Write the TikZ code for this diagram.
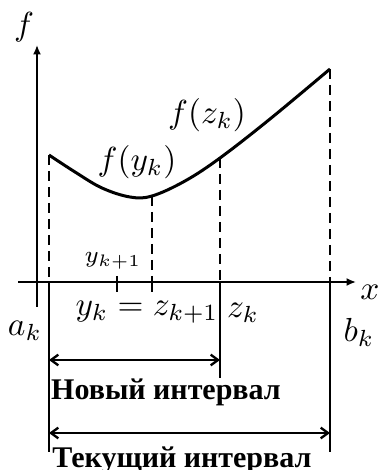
\documentclass[tikz,border=0pt]{standalone}
\usepackage{fontspec}
\setmainfont{Liberation Serif}
\usetikzlibrary{arrows.meta}

\begin{document}
\begin{tikzpicture}[
  x=0.3pt, y=-0.3pt,
  axis/.style={line width=0.7pt, -{Latex[length=2.8pt, width=2.4pt]}},
  curve/.style={line width=0.9pt},
  guide/.style={line width=0.8pt, dash pattern=on 3pt off 1.8pt},
  bound/.style={line width=0.8pt},
  span/.style={line width=0.7pt, {Straight Barb[length=2.2pt, width=3.2pt]}-{Straight Barb[length=2.2pt, width=3.2pt]}},
  lbl/.style={inner sep=0pt, font=\fontsize{10}{12}\selectfont},
  txt/.style={inner sep=0pt, font=\fontsize{9}{11}\selectfont\bfseries},
]
\useasboundingbox (0,0) rectangle (380,470);

% === AXES ===
\coordinate (o0) at (37,307);
\coordinate (ytop) at (37,45);
\coordinate (x0) at (18,282);
\coordinate (xend) at (356,282);
\draw[axis] (o0) -- (ytop);
\draw[axis] (x0) -- (xend);
\node[lbl] (flab) at (24,27) {$f$};
\node[lbl] (xlab) at (370,292) {$x$};

% === CURVE POINTS ===
\coordinate (fa) at (49,155);
\coordinate (fy) at (152,196);
\coordinate (fz) at (220,158);
\coordinate (fb) at (330,69);
\draw[curve] plot[smooth, tension=0.6] coordinates {(49,155) (75,172) (102,188) (130,197) (152,196) (185,181) (220,158) (270,119) (330,69)};

% === POINTS ON AXIS ===
\coordinate (ak) at (49,282);
\coordinate (yk) at (152,282);
\coordinate (zk) at (220,282);
\coordinate (bk) at (330,282);
\coordinate (yk1) at (117,282);

\draw[guide] (fa) -- (ak);
\draw[guide] (fy) -- (yk);
\draw[guide] (fz) -- (zk);
\draw[guide] (fb) -- (bk);

\draw[bound] (ak) -- ++(0,170) coordinate (akd);
\draw[bound] (zk) -- ++(0,96) coordinate (zkd);
\draw[bound] (bk) -- ++(0,170) coordinate (bkd);
\draw[bound] (yk) -- ++(0,10);
\draw[bound] (yk1) ++(0,-6) -- ++(0,16);

% === LABELS ===
\node[lbl] (fylab) at (137,162) {$f(y_k)$};
\node[lbl] (fzlab) at (207,115) {$f(z_k)$};
\node[lbl, font=\fontsize{7.5}{9}\selectfont] (yk1lab) at (113,261) {$y_{k+1}$};
\node[lbl] (yklab) at (147,312) {$y_k = z_{k+1}$};
\node[lbl] (zklab) at (243,313) {$z_k$};
\node[lbl] (aklab) at (25,331) {$a_k$};
\node[lbl] (bklab) at (359,332) {$b_k$};

% === INTERVALS ===
\coordinate (n1) at (49,360);
\coordinate (n2) at (220,360);
\coordinate (c1) at (49,433);
\coordinate (c2) at (330,433);
\draw[span] (n1) -- (n2);
\draw[span] (c1) -- (c2);
\node[txt] (newint) at (166,392) {Новый интервал};
\node[txt] (curint) at (182,460) {Текущий интервал};
\end{tikzpicture}
\end{document}
